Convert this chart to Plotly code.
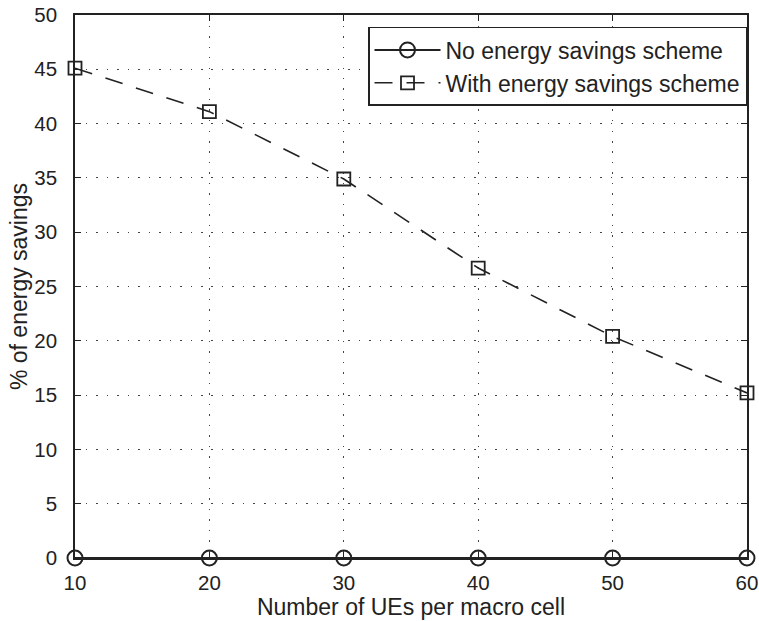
import plotly.graph_objects as go

ues = [10, 20, 30, 40, 50, 60]
no_scheme = [0, 0, 0, 0, 0, 0]
with_scheme = [45.1, 41.1, 34.9, 26.7, 20.4, 15.2]
x_ticks = [10, 20, 30, 40, 50, 60]
y_ticks = [0, 5, 10, 15, 20, 25, 30, 35, 40, 45, 50]

fig = go.Figure()
fig.add_trace(go.Scatter(
    x=ues, y=no_scheme, mode="lines+markers", name="No energy savings scheme",
    line=dict(color="#222222", width=2),
    marker=dict(symbol="circle-open", size=15, color="#222222", line=dict(width=2)),
    cliponaxis=False))
fig.add_trace(go.Scatter(
    x=ues, y=with_scheme, mode="lines+markers", name="With energy savings scheme",
    line=dict(color="#222222", width=1.6, dash="18px,14px"),
    marker=dict(symbol="square-open", size=13, color="#222222", line=dict(width=1.8)),
    cliponaxis=False))

axis_common = dict(
    showline=True, linecolor="#222222", linewidth=1.5, mirror="ticks",
    ticks="inside", ticklen=6, tickcolor="#222222",
    showgrid=True, gridcolor="#444444", griddash="1.5px,9px", gridwidth=1.2,
    zeroline=False, tickfont=dict(size=20.5, color="#222222"), automargin=False,
    ticklabeloverflow="allow",
)
fig.update_xaxes(range=[10, 60], tickvals=x_ticks, ticklabelstandoff=6,
                 title=dict(text="Number of UEs per macro cell", font=dict(size=23, color="#222222"), standoff=3),
                 **axis_common)
fig.update_yaxes(range=[0, 50], tickvals=y_ticks, ticklabelstandoff=12,
                 title=dict(text="% of energy savings", font=dict(size=23, color="#222222"), standoff=0),
                 **axis_common)

fig.update_layout(
    width=759, height=621,
    margin=dict(l=75, r=12, t=15, b=63),
    plot_bgcolor="white", paper_bgcolor="white",
    font=dict(family="Liberation Sans, Arial, sans-serif", color="#222222"),
    legend=dict(x=1, y=0.978, xanchor="right", yanchor="top",
                bordercolor="#222222", borderwidth=1.5, bgcolor="white",
                font=dict(size=23), itemwidth=66, tracegroupgap=0),
    showlegend=True,
)
# Remove the default page margin so the figure fills the window exactly.
fig.write_html("out.html", config={"displayModeBar": False},
               post_script="document.body.style.margin='0';document.body.style.overflow='hidden';")
